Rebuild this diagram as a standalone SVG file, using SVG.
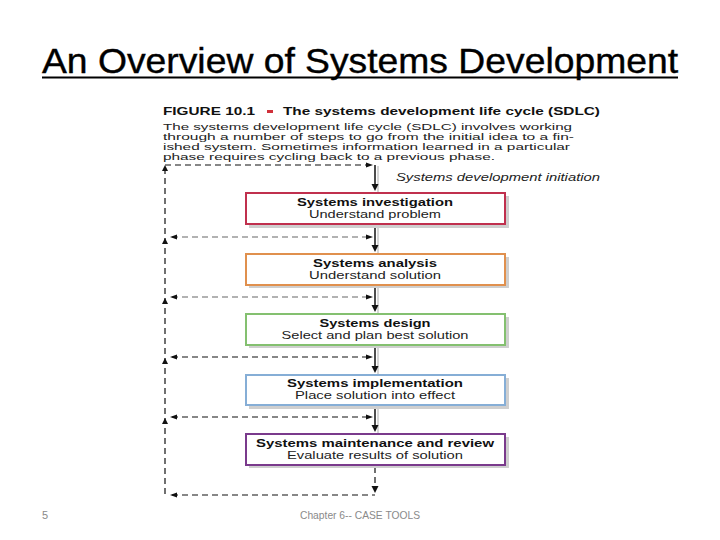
<svg xmlns="http://www.w3.org/2000/svg" width="720" height="540" viewBox="0 0 720 540">
<style>
.ttl{font-family:"Liberation Sans",Arial,sans-serif;font-size:35px;fill:#000;stroke:#000;stroke-width:0.4}
.fig{font-family:"Liberation Sans",Arial,sans-serif;font-size:11px;font-weight:bold;fill:#111}
.body{font-family:"Liberation Sans",Arial,sans-serif;font-size:9.5px;fill:#222}
.ital{font-family:"Liberation Sans",Arial,sans-serif;font-size:11px;font-style:italic;fill:#222}
.bt{font-family:"Liberation Sans",Arial,sans-serif;font-size:10.5px;font-weight:bold;fill:#111;text-anchor:middle}
.bs{font-family:"Liberation Sans",Arial,sans-serif;font-size:10.5px;fill:#222;text-anchor:middle}
.foot{font-family:"Liberation Sans",Arial,sans-serif;font-size:11px;fill:#8a8a8a}
.box{fill:#fff;stroke-width:2}
.shadow{fill:#cfcfcf}
.dash{stroke:#111;stroke-width:1.2;stroke-dasharray:6 4;fill:none}
.dashg{stroke:#999;stroke-width:1.4;stroke-dasharray:6 4;fill:none}
.main{stroke:#111;stroke-width:1.5;fill:none}
.mshadow{stroke:#c8c8c8;stroke-width:1.5;fill:none}
.ah{fill:#111}
</style>
<defs>
<path id="down" d="M-3.5,-7 L3.5,-7 L0,0 Z"/>
<path id="up" d="M-3,6 L3,6 L0,0 Z"/>
<path id="left" d="M0,0 L7,-2.5 L7,2.5 Z"/>
<path id="right" d="M0,0 L-7,-2.5 L-7,2.5 Z"/>
</defs>

<g id="title">
<text class="ttl" x="42" y="73" textLength="636" lengthAdjust="spacingAndGlyphs">An Overview of Systems Development</text>
<line x1="42" y1="77.5" x2="678" y2="77.5" stroke="#000" stroke-width="2.2"/>
</g>

<g id="caption">
<text class="fig" x="163" y="115" textLength="92" lengthAdjust="spacingAndGlyphs">FIGURE 10.1</text>
<rect x="267" y="110" width="6" height="3" fill="#d0303a"/>
<text class="fig" x="283" y="115" textLength="317" lengthAdjust="spacingAndGlyphs">The systems development life cycle (SDLC)</text>
<text class="body" x="163" y="130" textLength="409" lengthAdjust="spacingAndGlyphs">The systems development life cycle (SDLC) involves working</text>
<text class="body" x="163" y="140" textLength="411" lengthAdjust="spacingAndGlyphs">through a number of steps to go from the initial idea to a fin-</text>
<text class="body" x="163" y="150" textLength="407" lengthAdjust="spacingAndGlyphs">ished system. Sometimes information learned in a particular</text>
<text class="body" x="163" y="159.5" textLength="332" lengthAdjust="spacingAndGlyphs">phase requires cycling back to a previous phase.</text>
<text class="ital" x="396" y="181" textLength="204" lengthAdjust="spacingAndGlyphs">Systems development initiation</text>
</g>

<g id="connectors">
<line class="dash" x1="165" y1="168" x2="165" y2="495"/>
<line class="dash" x1="165" y1="165" x2="368" y2="165"/>
<line class="dashg" x1="172" y1="237" x2="368" y2="237"/>
<line class="dashg" x1="172" y1="297" x2="368" y2="297"/>
<line class="dash" x1="172" y1="357" x2="368" y2="357"/>
<line class="dash" x1="172" y1="417" x2="368" y2="417"/>
<line class="dash" x1="172" y1="495" x2="375" y2="495"/>
<line class="dash" x1="375" y1="467" x2="375" y2="488"/>
<use href="#up" class="ah" x="165" y="165"/>
<use href="#up" class="ah" x="165" y="238"/>
<use href="#up" class="ah" x="165" y="298"/>
<use href="#up" class="ah" x="165" y="358"/>
<use href="#up" class="ah" x="165" y="418"/>
<use href="#left" class="ah" x="170" y="237"/>
<use href="#left" class="ah" x="170" y="297"/>
<use href="#left" class="ah" x="170" y="357"/>
<use href="#left" class="ah" x="170" y="417"/>
<use href="#left" class="ah" x="170" y="495"/>
<use href="#right" class="ah" x="373" y="165"/>
<use href="#right" class="ah" x="373" y="237"/>
<use href="#right" class="ah" x="373" y="297"/>
<use href="#right" class="ah" x="373" y="357"/>
<use href="#right" class="ah" x="373" y="417"/>
<line class="mshadow" x1="378" y1="166" x2="378" y2="193"/>
<line class="mshadow" x1="378" y1="226" x2="378" y2="254"/>
<line class="mshadow" x1="378" y1="286" x2="378" y2="314"/>
<line class="mshadow" x1="378" y1="346" x2="378" y2="375"/>
<line class="mshadow" x1="378" y1="406" x2="378" y2="434"/>
<line class="main" x1="375" y1="165" x2="375" y2="185"/>
<line class="main" x1="375" y1="225" x2="375" y2="246"/>
<line class="main" x1="375" y1="285" x2="375" y2="306"/>
<line class="main" x1="375" y1="345" x2="375" y2="367"/>
<line class="main" x1="375" y1="405" x2="375" y2="426"/>
<use href="#down" class="ah" x="375" y="191"/>
<use href="#down" class="ah" x="375" y="252"/>
<use href="#down" class="ah" x="375" y="312"/>
<use href="#down" class="ah" x="375" y="373"/>
<use href="#down" class="ah" x="375" y="432"/>
<use href="#down" class="ah" x="375" y="493"/>
</g>

<g id="investigation">
<rect class="shadow" x="249" y="196" width="260" height="32"/>
<rect class="box" x="246" y="193" width="259" height="31" stroke="#c0304e"/>
<text class="bt" x="375" y="206" textLength="156" lengthAdjust="spacingAndGlyphs">Systems investigation</text>
<text class="bs" x="375" y="218" textLength="132" lengthAdjust="spacingAndGlyphs">Understand problem</text>
</g>

<g id="analysis">
<rect class="shadow" x="249" y="257" width="260" height="31"/>
<rect class="box" x="246" y="254" width="259" height="31" stroke="#e0904e"/>
<text class="bt" x="375" y="267" textLength="124" lengthAdjust="spacingAndGlyphs">Systems analysis</text>
<text class="bs" x="375" y="279" textLength="132" lengthAdjust="spacingAndGlyphs">Understand solution</text>
</g>

<g id="design">
<rect class="shadow" x="249" y="317" width="260" height="31"/>
<rect class="box" x="246" y="314" width="259" height="31" stroke="#84c070"/>
<text class="bt" x="375" y="327" textLength="111" lengthAdjust="spacingAndGlyphs">Systems design</text>
<text class="bs" x="375" y="339" textLength="187" lengthAdjust="spacingAndGlyphs">Select and plan best solution</text>
</g>

<g id="implementation">
<rect class="shadow" x="249" y="378" width="260" height="31"/>
<rect class="box" x="246" y="375" width="259" height="30" stroke="#86aed6"/>
<text class="bt" x="375" y="387" textLength="176" lengthAdjust="spacingAndGlyphs">Systems implementation</text>
<text class="bs" x="375" y="399" textLength="160" lengthAdjust="spacingAndGlyphs">Place solution into effect</text>
</g>

<g id="maintenance">
<rect class="shadow" x="249" y="437" width="260" height="31"/>
<rect class="box" x="246" y="434" width="259" height="31" stroke="#7a3a8c"/>
<text class="bt" x="375" y="447" textLength="238" lengthAdjust="spacingAndGlyphs">Systems maintenance and review</text>
<text class="bs" x="375" y="459" textLength="176" lengthAdjust="spacingAndGlyphs">Evaluate results of solution</text>
</g>

<g id="footer">
<text class="foot" x="42" y="519">5</text>
<text class="foot" x="300" y="519" textLength="120" lengthAdjust="spacingAndGlyphs">Chapter 6-- CASE TOOLS</text>
</g>
</svg>
